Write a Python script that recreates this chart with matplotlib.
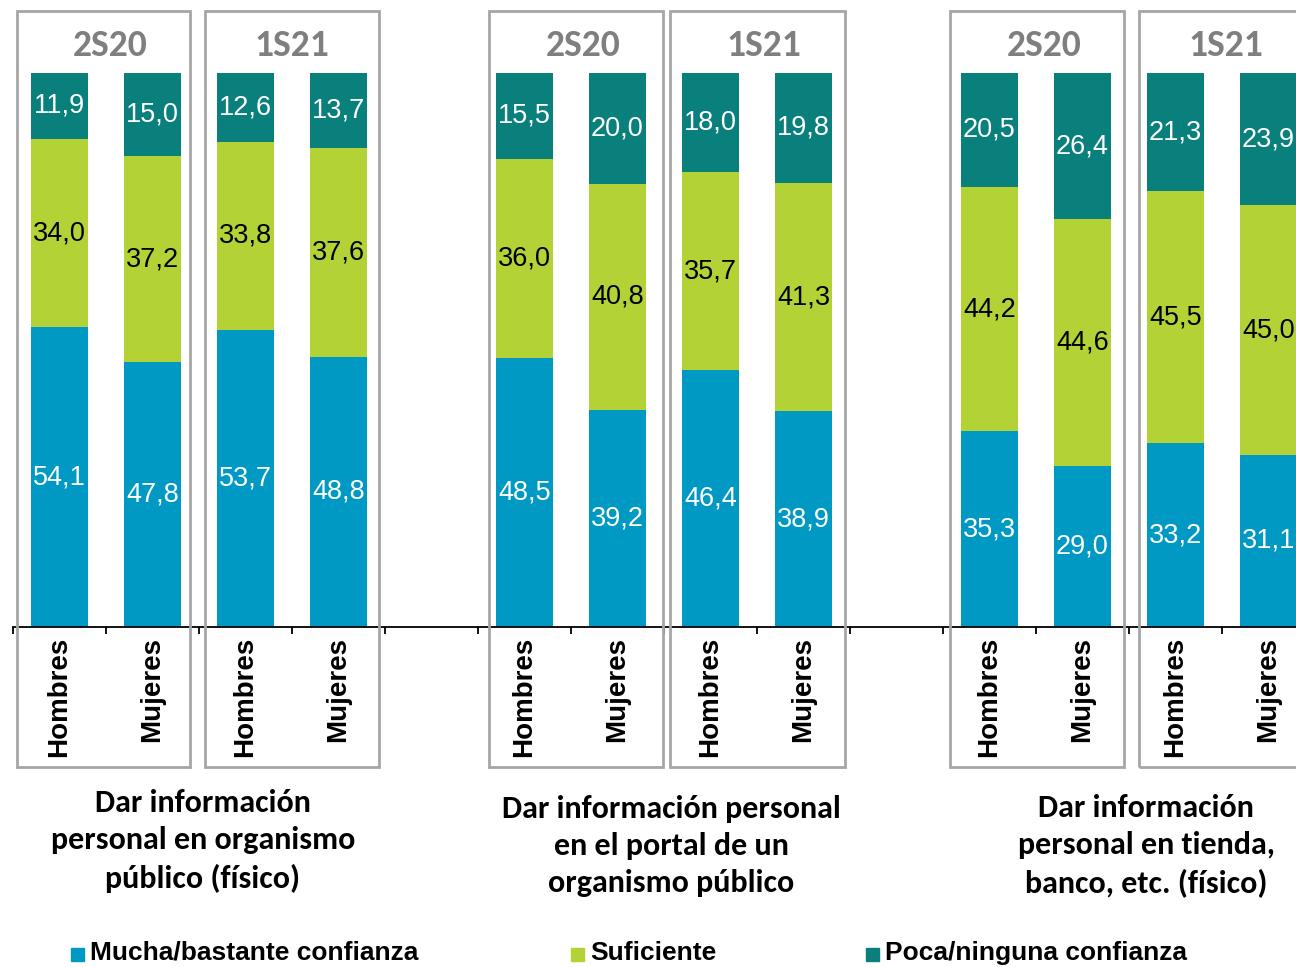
import matplotlib
matplotlib.use("Agg")
import numpy as np
import matplotlib.pyplot as plt
from matplotlib.patches import Rectangle

# positions 4 and 9 are empty spacer columns between the three groups
sexo = ["Hombres", "Mujeres", "Hombres", "Mujeres", "",
        "Hombres", "Mujeres", "Hombres", "Mujeres", "",
        "Hombres", "Mujeres", "Hombres", "Mujeres"]
mucha = [54.1, 47.8, 53.7, 48.8, np.nan, 48.5, 39.2, 46.4, 38.9, np.nan, 35.3, 29.0, 33.2, 31.1]
suficiente = [34.0, 37.2, 33.8, 37.6, np.nan, 36.0, 40.8, 35.7, 41.3, np.nan, 44.2, 44.6, 45.5, 45.0]
poca = [11.9, 15.0, 12.6, 13.7, np.nan, 15.5, 20.0, 18.0, 19.8, np.nan, 20.5, 26.4, 21.3, 23.9]

periodos = ["2S20", "1S21", "2S20", "1S21", "2S20", "1S21"]
grupos = ["Dar información\npersonal en organismo\npúblico (físico)",
          "Dar información personal\nen el portal de un\norganismo público",
          "Dar información\npersonal en tienda,\nbanco, etc. (físico)"]
series = ["Mucha/bastante confianza", "Suficiente", "Poca/ninguna confianza"]

AZUL = "#0099c4"
VERDE = "#b3d236"
TEAL = "#0a807c"
GRIS = "#a6a6a6"

W, H = 1296, 967
fig = plt.figure(figsize=(W / 100, H / 100), dpi=100)


def fx(x):
    return x / W


def fy(y):
    return 1 - y / H


# axes: x from 13px, category width 93px, bottom at 627px, 100% at 73px
ax = fig.add_axes([fx(13), fy(627), 93 * 14 / W, (627 - 73) / H])
x = np.arange(len(sexo))
mucha = np.array(mucha)
suficiente = np.array(suficiente)
poca = np.array(poca)
bw = 0.62
ax.bar(x, mucha, bw, color=AZUL)
ax.bar(x, suficiente, bw, bottom=mucha, color=VERDE)
ax.bar(x, poca, bw, bottom=mucha + suficiente, color=TEAL)

lab_font = dict(family=["Liberation Sans", "DejaVu Sans"], fontsize=19.5, ha="center", va="center")
for i in range(len(sexo)):
    if np.isnan(mucha[i]):
        continue
    ax.text(x[i], mucha[i] / 2, f"{mucha[i]:.1f}".replace(".", ","), color="white", **lab_font)
    ax.text(x[i], mucha[i] + suficiente[i] / 2, f"{suficiente[i]:.1f}".replace(".", ","),
            color="black", **lab_font)
    ax.text(x[i], mucha[i] + suficiente[i] + poca[i] / 2, f"{poca[i]:.1f}".replace(".", ","),
            color="white", **lab_font)

ax.set_xlim(-0.5, 13.5)
ax.set_ylim(0, 100)
for s in ["top", "right", "left"]:
    ax.spines[s].set_visible(False)
ax.spines["bottom"].set_linewidth(1.3)
ax.set_yticks([])
ax.set_xticks(x)
ax.set_xticklabels(sexo, rotation=90, fontsize=20, fontweight="bold",
                   family=["Liberation Sans", "DejaVu Sans"], va="top")
ax.tick_params(axis="x", which="major", length=0, pad=7)
ax.set_xticks(np.arange(-0.5, 14, 1), minor=True)
ax.tick_params(axis="x", which="minor", length=5, width=1.3, direction="out")

# boxes around each period (pixel coords) and the period label centre
cajas = [(17, 190), (205, 379), (489, 663), (670, 845), (950, 1124), (1139, 1320)]
centros = [110, 292, 583, 764, 1044, 1226]
for (x0, x1), cx, per in zip(cajas, centros, periodos):
    fig.patches.append(Rectangle((fx(x0), fy(767)), fx(x1 - x0), (767 - 11) / H,
                                 transform=fig.transFigure, fill=False,
                                 edgecolor=GRIS, linewidth=2))
    fig.text(fx(cx), fy(46), per, ha="center", va="center", fontsize=27,
             fontweight="bold", color="#7f7f7f", family=["Carlito", "DejaVu Sans"])

# group titles
for gx, gy, txt in zip([203, 671, 1146], [841, 846, 846], grupos):
    fig.text(fx(gx), fy(gy), txt, ha="center", va="center", fontsize=23, fontweight="bold",
             family=["Carlito", "DejaVu Sans"], linespacing=1.4)

# legend
for lx, col, txt in zip([71, 571, 866], [AZUL, VERDE, TEAL], series):
    fig.patches.append(Rectangle((fx(lx), fy(961)), fx(13), 13 / H,
                                 transform=fig.transFigure, color=col))
    fig.text(fx(lx + 19), fy(953), txt, ha="left", va="center", fontsize=19,
             fontweight="bold", family=["Liberation Sans", "DejaVu Sans"])

fig.savefig("out.png", dpi=100)
